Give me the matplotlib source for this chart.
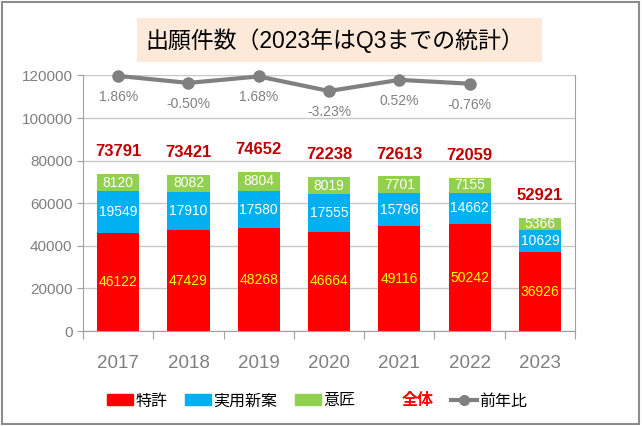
import matplotlib
matplotlib.use("Agg")
import matplotlib.pyplot as plt
from matplotlib.patches import Patch, Rectangle
from matplotlib.lines import Line2D
import numpy as np

plt.rcParams['font.family'] = ['Liberation Sans', 'Noto Sans CJK JP', 'DejaVu Sans']

years = ['2017', '2018', '2019', '2020', '2021', '2022', '2023']
patent = [46122, 47429, 48268, 46664, 49116, 50242, 36926]
utility = [19549, 17910, 17580, 17555, 15796, 14662, 10629]
design = [8120, 8082, 8804, 8019, 7701, 7155, 5366]
total = [73791, 73421, 74652, 72238, 72613, 72059, 52921]
yoy = [1.86, -0.50, 1.68, -3.23, 0.52, -0.76]  # 前年比 (%), 2017-2022

c_red = '#FF0000'
c_blue = '#00B0F0'
c_green = '#92D050'
c_gray = '#808080'

fig = plt.figure(figsize=(6.42, 4.26), dpi=100)
ax = fig.add_axes([0.1293, 0.223, 0.7664, 0.5998])

x = np.arange(len(years))
w = 0.6
b1 = ax.bar(x, patent, w, color=c_red, zorder=2)
b2 = ax.bar(x, utility, w, bottom=patent, color=c_blue, zorder=2)
bottom3 = np.array(patent) + np.array(utility)
b3 = ax.bar(x, design, w, bottom=bottom3, color=c_green, zorder=2)

ax.bar_label(b1, labels=[str(v) for v in patent], label_type='center',
             color='#FFFF00', fontsize=10)
ax.bar_label(b2, labels=[str(v) for v in utility], label_type='center',
             color='white', fontsize=10)
ax.bar_label(b3, labels=[str(v) for v in design], label_type='center',
             color='white', fontsize=10)

for xi, t in zip(x, total):
    ax.text(xi, t + 10500, str(t), ha='center', va='center', color='#C00000',
            fontsize=12, fontweight='bold')

ax.set_xlim(-0.5, 6.5)
ax.set_ylim(0, 120000)
ax.set_yticks(np.arange(0, 120001, 20000))
ax.tick_params(axis='y', colors='#A0A0A0', labelcolor='#7F7F7F', labelsize=11,
               length=4, direction='out')
ax.set_xticks(np.arange(-0.5, 7, 1))
ax.set_xticklabels([])
ax.tick_params(axis='x', which='major', colors='#A0A0A0', length=6)
ax.set_xticks(x, minor=True)
ax.set_xticklabels(years, minor=True)
ax.tick_params(axis='x', which='minor', length=0, pad=17, labelsize=13.5,
               labelcolor='#7F7F7F')
ax.grid(axis='y', color='#C8C8C8', lw=1, zorder=0)
ax.set_axisbelow(True)
for s in ['left', 'bottom', 'right']:
    ax.spines[s].set_color('#A0A0A0')
ax.spines['top'].set_visible(False)

ax2 = ax.twinx()
ax2.set_ylim(-84.1, 2.0)
ax2.plot(x[:len(yoy)], yoy, color=c_gray, lw=3, marker='o', markersize=8,
         clip_on=False, zorder=5)
for xi, v in zip(x, yoy):
    ax2.annotate(f'{v:.2f}%', (xi, v), xytext=(0, -15), textcoords='offset points',
                 ha='center', va='center', color=c_gray, fontsize=10)
ax2.set_yticks([])
for s in ax2.spines.values():
    s.set_visible(False)

# title box
fig.patches.append(Rectangle((0.2134, 0.8545), 0.631, 0.1033, transform=fig.transFigure,
                             facecolor='#FDE9D9', edgecolor='none', zorder=0))
fig.text(0.522, 0.905, '出願件数（2023年はQ3までの統計）', ha='center', va='center',
         fontsize=16.5, color='black')

# outer frame
fig.patches.append(Rectangle((0.003, 0.005), 0.993, 0.99, transform=fig.transFigure,
                             facecolor='none', edgecolor='#8C8C8C', lw=1.5))

handles = [Patch(color=c_red), Patch(color=c_blue), Patch(color=c_green),
           Patch(facecolor='none', edgecolor='none'),
           Line2D([], [], color=c_gray, lw=3, marker='o', markersize=7)]
labels = ['特許', '実用新案', '意匠', '全体', '前年比']
leg = fig.legend(handles, labels, loc='center', bbox_to_anchor=(0.494, 0.0587), ncol=5,
                 frameon=False, fontsize=11.5, handlelength=1.63, handletextpad=0.15,
                 columnspacing=1.1)
leg.get_texts()[3].set_color(c_red)
leg.get_texts()[3].set_fontweight('bold')

fig.savefig('out.png', dpi=100)
